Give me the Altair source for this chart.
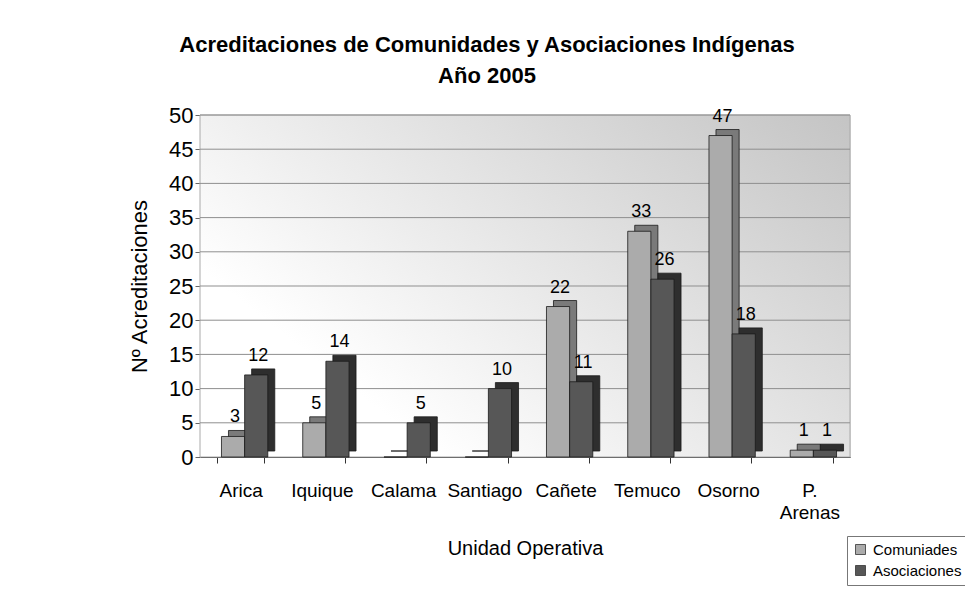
import altair as alt
import pandas as pd

categories = ["Arica", "Iquique", "Calama", "Santiago", "Cañete", "Temuco", "Osorno", "P. Arenas"]
series_names = ["Comuniades", "Asociaciones"]
comunidades = [3, 5, 0, 0, 22, 33, 47, 1]
asociaciones = [12, 14, 5, 10, 11, 26, 18, 1]
grid_values = [5, 10, 15, 20, 25, 30, 35, 40, 45, 50]
y_ticks = [0, 5, 10, 15, 20, 25, 30, 35, 40, 45, 50]

FONT = "Liberation Sans, Arial, Helvetica"
W, H = 650, 342
P_INNER, P_OUTER = 0.43, 0.215
STEP = W / (len(categories) - P_INNER + 2 * P_OUTER)
BAND = STEP * (1 - P_INNER)
SHIFT = 4
DEPTH_X, DEPTH_Y = 7, 6

rows = []
for c, a, b in zip(categories, comunidades, asociaciones):
    rows.append({"cat": c, "series": series_names[0], "value": a})
    rows.append({"cat": c, "series": series_names[1], "value": b})
df = pd.DataFrame(rows)
grid_df = pd.DataFrame({"value": grid_values})

xenc = alt.X(
    "cat:N", sort=categories,
    scale=alt.Scale(paddingInner=P_INNER, paddingOuter=P_OUTER),
    axis=alt.Axis(
        title="Unidad Operativa", labelAngle=0, tickBand="extent", tickSize=6,
        labelFont=FONT, labelFontSize=19, labelColor="black", labelPadding=18,
        labelExpr="datum.label == 'P. Arenas' ? ['P.', 'Arenas'] : datum.label",
        labelLineHeight=22, labelOverlap=False,
        titleFont=FONT, titleFontSize=20, titleFontWeight="normal", titleColor="black",
        titlePadding=16, domainColor="#333", tickColor="#333",
    ),
)
yscale = alt.Scale(domain=[0, 50])
y_axis = alt.Axis(
    title="Nº Acreditaciones", values=y_ticks,
    grid=False, tickSize=5, labelPadding=2, labelOverlap=False,
    labelFont=FONT, labelFontSize=22, labelColor="black",
    titleFont=FONT, titleFontSize=22, titleFontWeight="normal", titleColor="black",
    titlePadding=17, domainColor="#666", tickColor="#666",
)
yenc = alt.Y("value:Q", scale=yscale, axis=y_axis)

bg = alt.Chart(pd.DataFrame({"a": [0]})).mark_rect(
    fill=alt.Gradient(
        gradient="linear",
        stops=[alt.GradientStop(color="#ffffff", offset=0),
               alt.GradientStop(color="#c4c4c4", offset=1)],
        x1=0.1, y1=0.6, x2=1, y2=0,
    ),
    stroke="#aaaaaa", strokeWidth=1,
).encode(x=alt.value(0), x2=alt.value(W), y=alt.value(0), y2=alt.value(H))

grid = alt.Chart(grid_df).mark_rule(color="#8f8f8f", strokeWidth=1).encode(y=yenc)

side = alt.Chart(df).mark_bar(
    yOffset=-DEPTH_Y, y2Offset=-DEPTH_Y, stroke="#1a1a1a", strokeWidth=0.8
).encode(
    x=xenc,
    xOffset=alt.XOffset("series:N", sort=series_names,
                        scale=alt.Scale(range=[SHIFT + DEPTH_X, SHIFT + DEPTH_X + BAND])),
    y=yenc,
    color=alt.condition("datum.series == 'Comuniades'", alt.value("#7a7a7a"), alt.value("#2e2e2e")),
)

front_x_off = alt.XOffset("series:N", sort=series_names,
                          scale=alt.Scale(range=[SHIFT, SHIFT + BAND]))

front = alt.Chart(df).mark_bar(stroke="#1a1a1a", strokeWidth=0.8).encode(
    x=xenc, xOffset=front_x_off, y=yenc,
    color=alt.Color(
        "series:N", sort=series_names,
        scale=alt.Scale(domain=series_names, range=["#ababab", "#575757"]),
        legend=alt.Legend(
            title=None, orient="none", legendX=647, legendY=421,
            labelFont=FONT, labelFontSize=15, labelColor="black", labelOffset=5,
            symbolType="square", symbolSize=100, symbolStrokeColor="#333", symbolStrokeWidth=0.8,
            strokeColor="#777", fillColor="white", padding=6, rowPadding=5,
        ),
    ),
)

labels = alt.Chart(df).transform_filter("datum.value > 0").mark_text(
    dy=-19, dx=2, font=FONT, fontSize=18, color="black"
).encode(
    x=xenc, xOffset=front_x_off, y=yenc,
    text="value:Q",
)

chart = alt.layer(bg, grid, side, front, labels).resolve_scale(
    xOffset="independent"
).properties(
    width=W, height=H,
    autosize=alt.AutoSizeParams(type="none"),
    padding={"left": 192, "top": 107, "right": 115, "bottom": 129},
    title=alt.TitleParams(
        ["Acreditaciones de Comunidades y Asociaciones Indígenas", "Año 2005"],
        font=FONT, fontSize=22, fontWeight="bold", color="black",
        anchor="middle", frame="group", dx=-38, offset=16, lineHeight=31,
    ),
).configure_view(stroke=None).configure(background="white")

chart.save("out.html", embed_options={"renderer": "svg", "actions": False})
